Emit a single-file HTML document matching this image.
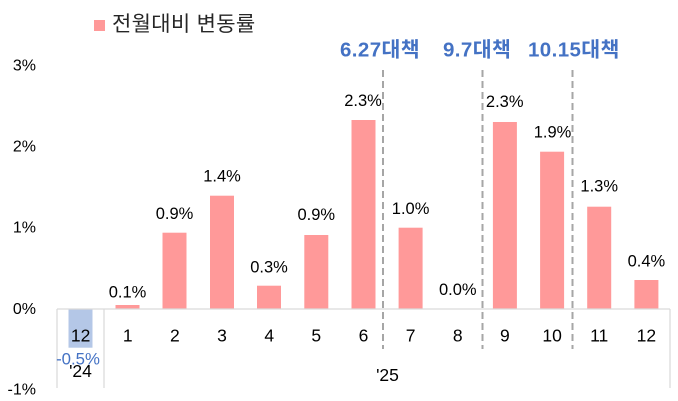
<!DOCTYPE html>
<html>
<head>
<meta charset="utf-8">
<style>
html,body{margin:0;padding:0;background:#fff;}
svg{display:block;}
text{font-family:"Liberation Sans","Noto Sans CJK KR",sans-serif;}
</style>
</head>
<body>
<svg width="678" height="401" viewBox="0 0 678 401" xmlns="http://www.w3.org/2000/svg">
  <!-- Legend -->
  <rect x="94" y="20" width="11" height="11" fill="#ff9999"/>
  <text x="112" y="24.5" font-size="21" fill="#262626" dominant-baseline="central" letter-spacing="0.3">전월대비 변동률</text>

  <!-- Y axis labels -->
  <g font-size="16" fill="#000" text-anchor="end" dominant-baseline="central">
    <text x="36" y="66">3%</text>
    <text x="36" y="147">2%</text>
    <text x="36" y="228">1%</text>
    <text x="36" y="309.5">0%</text>
    <text x="36" y="390">-1%</text>
  </g>

  <!-- Bars -->
  <g fill="#ff9999">
    <rect x="115.5" y="305" width="24" height="4"/>
    <rect x="162.5" y="232.7" width="24" height="76.3"/>
    <rect x="210" y="195.7" width="24" height="113.3"/>
    <rect x="257" y="285.7" width="24" height="23.3"/>
    <rect x="304.3" y="235" width="24" height="74"/>
    <rect x="351.5" y="120" width="24" height="189"/>
    <rect x="398.6" y="227.7" width="24" height="81.3"/>
    <rect x="492.9" y="122" width="24" height="187"/>
    <rect x="540.1" y="151.7" width="24" height="157.3"/>
    <rect x="587.2" y="206.7" width="24" height="102.3"/>
    <rect x="634.4" y="280" width="24" height="29"/>
  </g>
  <rect x="68.5" y="309" width="24" height="38.7" fill="#b4c7e7"/>

  <!-- Axis lines -->
  <g stroke="#d9d9d9" stroke-width="1.2" fill="none">
    <line x1="57" y1="309" x2="670" y2="309"/>
    <line x1="57" y1="309" x2="57" y2="388"/>
    <line x1="104" y1="309" x2="104" y2="388"/>
    <line x1="670" y1="309" x2="670" y2="388"/>
  </g>

  <!-- Dashed policy lines -->
  <g stroke="#a6a6a6" stroke-width="2" stroke-dasharray="7,4" fill="none">
    <line x1="383" y1="70" x2="383" y2="349"/>
    <line x1="482.5" y1="70" x2="482.5" y2="349"/>
    <line x1="572.5" y1="70" x2="572.5" y2="349"/>
  </g>

  <!-- Policy labels -->
  <g font-size="20.5" font-weight="bold" fill="#4472c4" dominant-baseline="central" letter-spacing="0.4">
    <text x="340" y="50">6.27대책</text>
    <text x="443" y="50">9.7대책</text>
    <text x="528" y="50">10.15대책</text>
  </g>

  <!-- Data labels -->
  <g font-size="16.5" fill="#000" text-anchor="middle" dominant-baseline="central">
    <text x="127.5" y="292.7">0.1%</text>
    <text x="174.5" y="214">0.9%</text>
    <text x="222" y="176.7">1.4%</text>
    <text x="269" y="267.3">0.3%</text>
    <text x="316.3" y="215">0.9%</text>
    <text x="363" y="101">2.3%</text>
    <text x="410.6" y="209">1.0%</text>
    <text x="457.8" y="290">0.0%</text>
    <text x="504.7" y="102">2.3%</text>
    <text x="552.5" y="132.7">1.9%</text>
    <text x="599.2" y="186.7">1.3%</text>
    <text x="646.4" y="261.7">0.4%</text>
  </g>
  <text x="78" y="359" font-size="16.8" fill="#4472c4" text-anchor="middle" dominant-baseline="central">-0.5%</text>

  <!-- Category labels -->
  <g font-size="17.5" fill="#000" text-anchor="middle" dominant-baseline="central">
    <text x="80.6" y="335.5">12</text>
    <text x="127.7" y="335.5">1</text>
    <text x="174.9" y="335.5">2</text>
    <text x="222" y="335.5">3</text>
    <text x="269.2" y="335.5">4</text>
    <text x="316.3" y="335.5">5</text>
    <text x="363.5" y="335.5">6</text>
    <text x="410.6" y="335.5">7</text>
    <text x="457.8" y="335.5">8</text>
    <text x="504.9" y="335.5">9</text>
    <text x="552.1" y="335.5">10</text>
    <text x="599.2" y="335.5">11</text>
    <text x="646.4" y="335.5">12</text>
    <text x="80.5" y="371">'24</text>
    <text x="387.5" y="375">'25</text>
  </g>
</svg>
</body>
</html>
